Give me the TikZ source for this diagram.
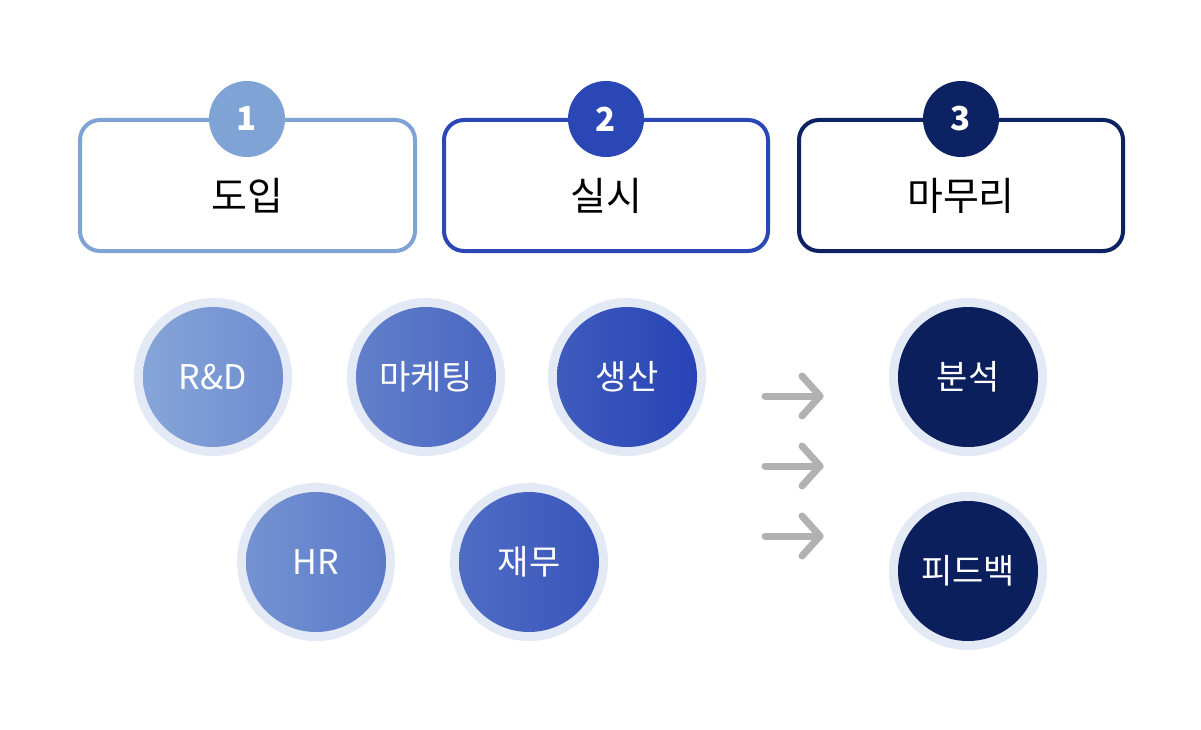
\documentclass[tikz,border=0pt]{standalone}
\usepackage{fontspec}
\setmainfont{Noto Sans CJK KR}
\definecolor{cOne}{HTML}{80A3D6}
\definecolor{cTwo}{HTML}{2A47B5}
\definecolor{cThree}{HTML}{0D2262}
\definecolor{gL}{HTML}{86A5D8}
\definecolor{gR}{HTML}{2743B5}
\definecolor{ringc}{HTML}{E3E9F5}
\definecolor{darkc}{HTML}{0B1F5C}
\definecolor{arrowc}{HTML}{B1B1B1}
\begin{document}
\begin{tikzpicture}[x=1pt,y=-1pt,
  stagebox/.style={draw=#1,line width=4pt,rounded corners=20pt,fill=white},
  numbadge/.style={circle,fill=#1,minimum size=76pt,inner sep=0pt,text=white,font=\fontsize{33}{35}\selectfont\bfseries},
  stagelabel/.style={text=black,font=\fontsize{39}{42}\selectfont},
  ring/.style={circle,fill=ringc,minimum size=158pt,inner sep=0pt},
  dept/.style={circle,minimum size=140pt,inner sep=0pt,text=white,font=\fontsize{34}{36}\selectfont},
  grad/.style 2 args={left color=gR!#1!gL,right color=gR!#2!gL},
  flowarrow/.style={draw=arrowc,line width=7pt,line cap=round,line join=round}
]
\useasboundingbox[fill=white] (0,0) rectangle (1201,730);

% stage boxes
\draw[stagebox=cOne] (80,120) rectangle (415,251);
\draw[stagebox=cTwo] (444,120) rectangle (768,251);
\draw[stagebox=cThree] (799,120) rectangle (1123,251);
\node[numbadge=cOne] (n1) at (247,119) {1};
\node[numbadge=cTwo] (n2) at (606,119) {2};
\node[numbadge=cThree] (n3) at (961,119) {3};
\node[stagelabel] (s1) at (247,196) {도입};
\node[stagelabel] (s2) at (606,196) {실시};
\node[stagelabel] (s3) at (961,196) {마무리};

% department circles
\node[ring] (rRD) at (213,377) {};
\node[ring] (rMK) at (426,377) {};
\node[ring] (rPR) at (627,377) {};
\node[ring] (rHR) at (316,562) {};
\node[ring] (rFN) at (529,562) {};
\node[dept,grad={0}{25}] (RD) at (213,377) {R\&D};
\node[dept,grad={38}{64}] (MK) at (426,377) {마케팅};
\node[dept,grad={75}{100}] (PR) at (627,377) {생산};
\node[dept,grad={19}{44}] (HR) at (316,562) {HR};
\node[dept,grad={57}{82}] (FN) at (529,562) {재무};

% closing circles
\node[ring] (rAN) at (968,377) {};
\node[ring] (rFB) at (968,571) {};
\node[dept,fill=darkc] (AN) at (968,377) {분석};
\node[dept,fill=darkc] (FB) at (968,571) {피드백};

% arrows
\foreach \i/\y in {1/396,2/466,3/536}{
  \coordinate (a\i s) at (765,\y);
  \coordinate (a\i t) at (820,\y);
  \coordinate (a\i u) at (802,\y-20);
  \coordinate (a\i d) at (802,\y+20);
  \draw[flowarrow] (a\i s) -- (a\i t);
  \draw[flowarrow] (a\i u) -- (a\i t) -- (a\i d);
}
\end{tikzpicture}
\end{document}
